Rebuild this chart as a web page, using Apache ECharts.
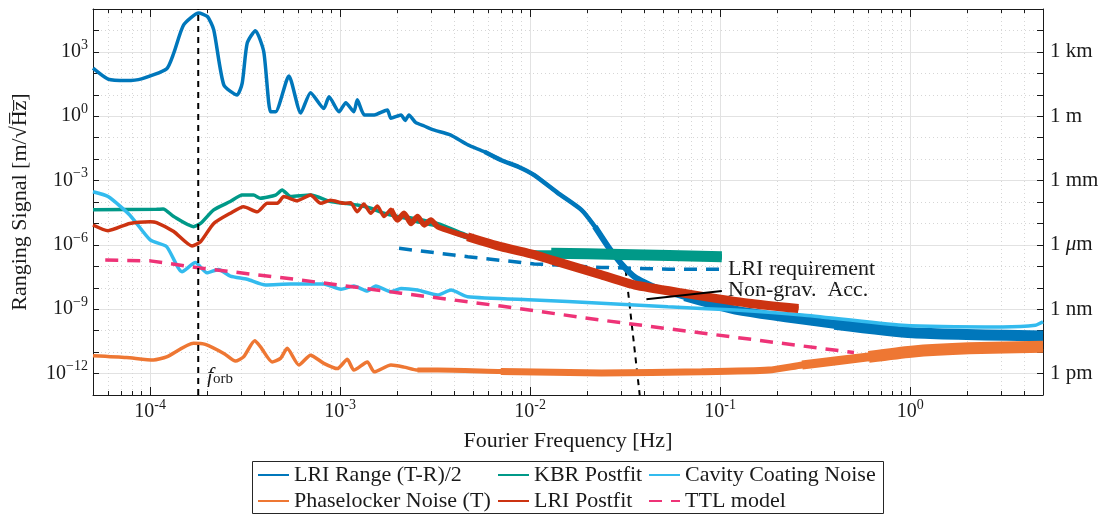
<!DOCTYPE html>
<html>
<head>
<meta charset="utf-8">
<script src="https://cdn.jsdelivr.net/npm/echarts@6/dist/echarts.min.js"></script>
<style>html,body{margin:0;padding:0;background:#fff}#chart{width:1105px;height:516px}</style>
</head>
<body>
<div id="chart"></div>
<script>
// values: frequency [Hz] and amplitude [m/sqrt(Hz)]
const lriRangeF = [5.0e-5, 6.0e-5, 7.5e-5, 9.0e-5, 1.22e-4, 1.33e-4, 1.5e-4, 1.8e-4, 2.0e-4, 2.16e-4, 2.44e-4, 2.87e-4, 3.05e-4, 3.24e-4, 3.58e-4, 3.96e-4, 4.3e-4, 4.57e-4, 5.37e-4, 6.2e-4, 6.98e-4, 8.2e-4, 8.73e-4, 9.86e-4, 1.07e-3, 1.18e-3, 1.23e-3, 1.34e-3, 1.51e-3, 1.77e-3, 1.85e-3, 2.09e-3, 2.2e-3, 2.3e-3, 2.5e-3, 2.77e-3, 3.1e-3, 3.8e-3, 4.7e-3, 5.75e-3, 7.0e-3, 8.7e-3, 1.05e-2, 1.4e-2, 1.86e-2, 2.19e-2, 2.57e-2, 3.0e-2, 3.55e-2, 4.5e-2, 6.5e-2, 0.12, 0.40, 1.03, 5.0];
const lriRangeV = [174, 54, 46, 55, 162, 870, 18200, 64600, 44700, 10700, 29, 9.8, 35, 2570, 9800, 1020, 1.6, 1.6, 76, 1.4, 12.6, 2.3, 8.1, 1.6, 4.3, 1.6, 5.8, 1.15, 1.15, 1.95, 0.81, 1.15, 0.63, 1.15, 0.5, 0.35, 0.23, 0.135, 0.046, 0.022, 9.1e-3, 4.3e-3, 1.8e-3, 2.6e-4, 4.3e-5, 7.1e-6, 8.3e-7, 1.4e-7, 3.2e-8, 1.1e-8, 3.8e-9, 9.1e-10, 2.0e-10, 7.9e-11, 5.6e-11];

const kbrF = [5e-5, 1.08e-4, 1.17e-4, 1.33e-4, 1.69e-4, 1.84e-4, 2.16e-4, 2.64e-4, 3.05e-4, 3.5e-4, 3.8e-4, 4.57e-4, 4.95e-4, 5.48e-4, 6.98e-4, 8.9e-4, 1.05e-3, 1.23e-3, 1.45e-3, 1.70e-3, 2.26e-3, 3.26e-3, 4.68e-3, 7.0e-3, 1.05e-2, 1.29e-2, 3.0e-2, 0.102];
const kbrV = [4.3e-5, 4.6e-5, 4.7e-5, 2.1e-5, 7.1e-6, 1.0e-5, 4.3e-5, 1.05e-4, 2.1e-4, 2.1e-4, 1.5e-4, 2.1e-4, 3.6e-4, 1.8e-4, 2.1e-4, 1.05e-4, 8.7e-5, 7.2e-5, 5.1e-5, 3.0e-5, 1.7e-5, 8.5e-6, 2.4e-6, 8.3e-7, 4.1e-7, 4.1e-7, 3.6e-7, 2.8e-7];

const cavityF = [5e-5, 6e-5, 7.8e-5, 1e-4, 1.22e-4, 1.47e-4, 1.73e-4, 1.99e-4, 2.29e-4, 2.64e-4, 3.24e-4, 4.05e-4, 5.48e-4, 8.2e-4, 1.01e-3, 1.18e-3, 1.39e-3, 1.54e-3, 1.85e-3, 2.09e-3, 2.55e-3, 3.26e-3, 3.83e-3, 4.68e-3, 1.05e-2, 2.37e-2, 5.3e-2, 0.12, 0.27, 0.91, 3.05, 4.57, 5.0];
const cavityV = [3.0e-4, 1.8e-4, 2.5e-5, 1.7e-6, 8.3e-7, 5.6e-8, 1.5e-7, 5.0e-8, 7.2e-8, 3.5e-8, 2.5e-8, 1.35e-8, 1.5e-8, 1.5e-8, 8.5e-9, 1.2e-8, 7.1e-9, 1.2e-8, 6.6e-9, 9.3e-9, 7.8e-9, 4.6e-9, 7.8e-9, 3.8e-9, 2.7e-9, 1.9e-9, 1.3e-9, 9.1e-10, 5.4e-10, 1.8e-10, 1.5e-10, 1.8e-10, 2.6e-10];

const phaseF = [5e-5, 7.5e-5, 1.04e-4, 1.22e-4, 1.69e-4, 1.95e-4, 2.44e-4, 2.81e-4, 3.1e-4, 3.55e-4, 3.8e-4, 4.38e-4, 4.85e-4, 5.26e-4, 6.06e-4, 6.98e-4, 8.2e-4, 9.66e-4, 1.09e-3, 1.18e-3, 1.39e-3, 1.51e-3, 1.85e-3, 2.17e-3, 2.55e-3, 3.26e-3, 7e-3, 2.37e-2, 7.98e-2, 0.18, 0.27, 0.605, 1.01, 2.04, 5.0];
const phaseV = [6.8e-12, 5.6e-12, 4.3e-12, 6.0e-12, 2.6e-11, 2.3e-11, 8.7e-12, 3.8e-12, 6.0e-12, 3.4e-11, 1.8e-11, 3.5e-12, 5.1e-12, 1.5e-11, 2.5e-12, 7.2e-12, 3.0e-12, 1.7e-12, 4.6e-12, 1.45e-12, 3.5e-12, 1.2e-12, 2.5e-12, 2.0e-12, 1.45e-12, 1.45e-12, 1.26e-12, 1.07e-12, 1.2e-12, 1.45e-12, 2.5e-12, 6.0e-12, 1.05e-11, 1.5e-11, 1.8e-11];

const lriPostF = [5e-5, 6e-5, 7.8e-5, 1e-4, 1.08e-4, 1.33e-4, 1.66e-4, 1.84e-4, 2.16e-4, 2.64e-4, 3.1e-4, 3.66e-4, 4.13e-4, 4.67e-4, 5.05e-4, 5.94e-4, 6.98e-4, 7.9e-4, 8.9e-4, 1.05e-3, 1.135e-3, 1.23e-3, 1.33e-3, 1.45e-3, 1.57e-3, 1.70e-3, 1.85e-3, 2.0e-3, 2.17e-3, 2.36e-3, 2.55e-3, 2.77e-3, 3.0e-3, 3.26e-3, 4.68e-3, 7.0e-3, 1.05e-2, 1.29e-2, 2.37e-2, 3.55e-2, 6.5e-2, 0.141, 0.258];
const lriPostV = [8.5e-6, 4.6e-6, 1.0e-5, 1.2e-5, 1.1e-5, 4.2e-6, 8.9e-7, 1.4e-6, 1.0e-5, 3.0e-5, 6.0e-5, 3.5e-5, 8.7e-5, 8.7e-5, 1.8e-4, 1.15e-4, 2.1e-4, 8.7e-5, 1.2e-4, 8.7e-5, 9.3e-5, 3.5e-5, 8.1e-5, 3.0e-5, 6.5e-5, 2.1e-5, 4.6e-5, 1.45e-5, 3.0e-5, 1.0e-5, 2.1e-5, 8.5e-6, 1.45e-5, 7.1e-6, 2.4e-6, 8.3e-7, 3.5e-7, 2.0e-7, 4.0e-8, 1.35e-8, 5.5e-9, 1.9e-9, 1.07e-9];

const ttlF = [5.8e-5, 1e-4, 1.84e-4, 6.2e-4, 2.09e-3, 7.0e-3, 2.37e-2, 7.98e-2, 0.506];
const ttlV = [1.95e-7, 1.8e-7, 8.3e-8, 2.3e-8, 5.6e-9, 1.4e-9, 3.1e-10, 7.8e-11, 9.5e-12];

const reqF = [2.04e-3, 4.69e-3, 1.05e-2, 2.37e-2, 5.37e-2, 0.1];
const reqV = [6.9e-7, 2.8e-7, 1.3e-7, 8.9e-8, 7.4e-8, 7.4e-8];

const nonGravF = [3.18e-2, 3.77e-2];
const nonGravV = [6.8e-8, 1e-13];
const leaderF = [0.0409, 0.102];
const leaderV = [2.95e-9, 7.1e-9];
const fOrb = 1.79e-4;

const fRange = [5e-5, 5];
const vRange = [1e-13, 1e5];
const unitLabels = { 3: '1 km', 0: '1 m', '-3': '1 mm', '-6': '1 {i|μ}m', '-9': '1 nm', '-12': '1 pm' };

const FONT = 'Liberation Serif';
const INK = '#1a1a1a';
const C = { blue: '#0077BB', teal: '#009988', cyan: '#33BBEE', orange: '#EE7733', red: '#CC3311', pink: '#EE3377' };

const zip = (f, v) => f.map((x, i) => [x, v[i]]);
const from = (f, v, fMin) => zip(f, v).filter(p => p[0] >= fMin);
const expOf = v => Math.round(Math.log10(v));
const isDecade = v => Math.abs(Math.log10(v) - expOf(v)) < 1e-6;

const supRich = {
  b: { fontFamily: FONT, fontSize: 20, lineHeight: 28, color: INK },
  s: { fontFamily: FONT, fontSize: 14, lineHeight: 14, verticalAlign: 'top', color: INK }
};

function line(name, data, color, width, extra) {
  return Object.assign({
    name, type: 'line', data, symbol: 'none', smooth: 0.2, silent: true,
    lineStyle: { color, width }, itemStyle: { color }
  }, extra || {});
}
// noisy high-frequency part drawn as a wider stroke of the same data
function band(data, color, width) {
  return line('', data, color, width);
}
const dashed = (name, data, color, width, dash) =>
  line(name, data, color, width, { smooth: false, lineStyle: { color, width, type: dash } });

const chart = echarts.init(document.getElementById('chart'));

const xBase = {
  type: 'log', logBase: 10, min: fRange[0], max: fRange[1],
  axisLine: { lineStyle: { color: INK, width: 1 } },
  axisTick: { inside: true, length: 8, lineStyle: { color: INK } },
  minorTick: { show: true, splitNumber: 9, length: 4, lineStyle: { color: INK } }
};
const yBase = {
  type: 'log', logBase: 10, min: vRange[0], max: vRange[1], interval: 1,
  axisLine: { show: true, lineStyle: { color: INK, width: 1 } },
  axisTick: { inside: true, length: 6, lineStyle: { color: INK } }
};

const legendBase = {
  orient: 'vertical', top: 463, itemWidth: 31, itemHeight: 14, itemGap: 2, padding: 0,
  selectedMode: false, itemStyle: { opacity: 0 },
  textStyle: { fontFamily: FONT, fontSize: 22, lineHeight: 24, color: INK }
};

chart.setOption({
  animation: false,
  grid: { left: 93, right: 62, top: 9, bottom: 121 },
  xAxis: [
    Object.assign({}, xBase, {
      position: 'bottom',
      axisLabel: {
        margin: 3, rich: supRich,
        formatter: v => isDecade(v) ? '{b|10}{s|' + expOf(v) + '}' : ''
      },
      splitLine: { show: true, lineStyle: { color: '#e2e2e2', width: 1 } },
      minorSplitLine: { show: true, lineStyle: { color: '#d6d6d6', type: [1, 3] } },
      name: 'Fourier Frequency [Hz]', nameLocation: 'middle', nameGap: 35,
      nameTextStyle: { fontFamily: FONT, fontSize: 22, color: INK }
    }),
    Object.assign({}, xBase, {
      position: 'top', axisLabel: { show: false }, splitLine: { show: false }
    })
  ],
  yAxis: [
    Object.assign({}, yBase, {
      position: 'left',
      axisLabel: {
        margin: 5, rich: supRich,
        formatter: v => expOf(v) % 3 === 0 ? '{b|10}{s|' + String(expOf(v)).replace('-', '−') + '}' : ''
      },
      splitLine: { show: true, lineStyle: { color: '#d6d6d6', type: [1, 3] } },
      name: 'Ranging Signal [m/√H̅z̅]', nameLocation: 'middle', nameGap: 62,
      nameTextStyle: { fontFamily: FONT, fontSize: 22, color: INK }
    }),
    Object.assign({}, yBase, {
      position: 'right',
      axisLabel: {
        margin: 7, fontFamily: FONT, fontSize: 21, color: INK,
        rich: { i: { fontFamily: FONT, fontSize: 21, fontStyle: 'italic', color: INK } },
        formatter: v => unitLabels[expOf(v)] || ''
      },
      splitLine: { show: true, lineStyle: { color: ['rgba(0,0,0,0)', '#e2e2e2', 'rgba(0,0,0,0)'], width: 1 } }
    })
  ],
  legend: [
    Object.assign({}, legendBase, { left: 257, data: ['LRI Range (T-R)/2', 'Phaselocker Noise (T)'] }),
    Object.assign({}, legendBase, { left: 497, data: ['KBR Postfit', 'LRI Postfit'] }),
    Object.assign({}, legendBase, { left: 648, data: ['Cavity Coating Noise', 'TTL model'] })
  ],
  series: [
    dashed('Non-grav. Acc.', zip(nonGravF, nonGravV), '#000', 2, [6, 5]),
    dashed('LRI requirement', zip(reqF, reqV), C.blue, 3.5, [13, 9]),
    line('LRI Range (T-R)/2', zip(lriRangeF, lriRangeV), C.blue, 3.5),
    band(from(lriRangeF, lriRangeV, 0.005), C.blue, 4.5),
    band(from(lriRangeF, lriRangeV, 0.02), C.blue, 6),
    band(from(lriRangeF, lriRangeV, 0.06), C.blue, 9),
    band(from(lriRangeF, lriRangeV, 0.3), C.blue, 11),
    line('KBR Postfit', zip(kbrF, kbrV), C.teal, 3.5),
    band(from(kbrF, kbrV, 0.002), C.teal, 6),
    band(from(kbrF, kbrV, 0.0125), C.teal, 11),
    line('Cavity Coating Noise', zip(cavityF, cavityV), C.cyan, 3.5),
    line('Phaselocker Noise (T)', zip(phaseF, phaseV), C.orange, 3.5),
    band(from(phaseF, phaseV, 0.0025), C.orange, 5),
    band(from(phaseF, phaseV, 0.005), C.orange, 7),
    band(from(phaseF, phaseV, 0.2), C.orange, 9),
    band(from(phaseF, phaseV, 0.6), C.orange, 12),
    line('LRI Postfit', zip(lriPostF, lriPostV), C.red, 3.5),
    band(from(lriPostF, lriPostV, 0.0018), C.red, 5.5),
    band(from(lriPostF, lriPostV, 0.0035), C.red, 9),
    dashed('TTL model', zip(ttlF, ttlV), C.pink, 3.5, [13, 9]),
    line('', zip(leaderF, leaderV), '#000', 2, { smooth: false }),
    // orbital frequency marker, spanning the full value axis
    dashed('f_orb', [[fOrb, vRange[0]], [fOrb, vRange[1]]], '#000', 2, [6, 5])
  ],
  graphic: [
    { type: 'rect', silent: true, shape: { x: 252.5, y: 461.5, width: 631, height: 52 },
      style: { fill: 'none', stroke: '#262626', lineWidth: 1 } },
    { type: 'text', left: 728, top: 258, silent: true,
      style: { text: 'LRI requirement', fontFamily: FONT, fontSize: 22, fill: INK } },
    { type: 'text', left: 728, top: 279, silent: true,
      style: { text: 'Non-grav.  Acc.', fontFamily: FONT, fontSize: 22, fill: INK } },
    { type: 'text', left: 207, top: 365, silent: true,
      style: {
        text: '{i|f}{sub|orb}',
        rich: {
          i: { fontFamily: FONT, fontSize: 22, fontStyle: 'italic', lineHeight: 21, fill: INK },
          sub: { fontFamily: FONT, fontSize: 15, lineHeight: 8, verticalAlign: 'bottom', fill: INK }
        }
      } }
  ]
});
</script>
</body>
</html>
